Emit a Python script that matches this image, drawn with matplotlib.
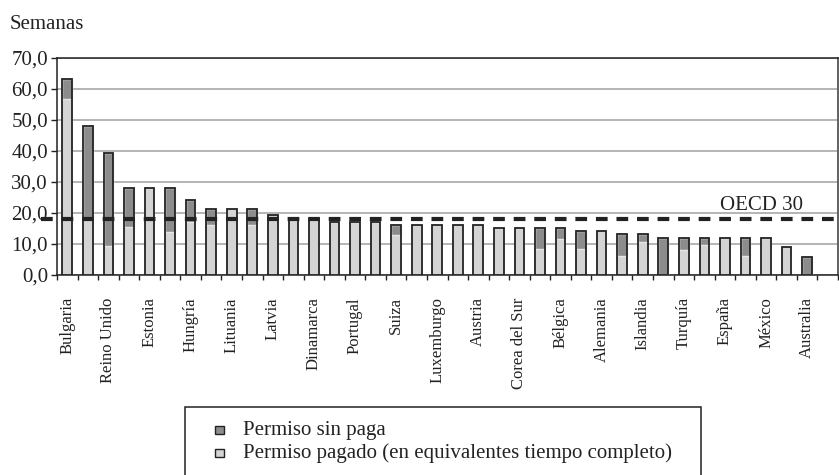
import matplotlib
matplotlib.use("Agg")
import matplotlib.pyplot as plt
from matplotlib.patches import Rectangle
import numpy as np

labels = ["Bulgaria", "", "Reino Unido", "", "Estonia", "", "Hungría", "", "Lituania", "",
          "Latvia", "", "Dinamarca", "", "Portugal", "", "Suiza", "", "Luxemburgo", "",
          "Austria", "", "Corea del Sur", "", "Bélgica", "", "Alemania", "", "Islandia", "",
          "Turquía", "", "España", "", "México", "", "Australia"]
paid = [56.6, 18.0, 9.4, 15.6, 28.1, 13.7, 17.0, 16.0, 21.2, 16.2,
        19.2, 18.2, 18.2, 17.2, 17.2, 17.2, 12.9, 16.2, 16.1, 16.1,
        16.1, 15.0, 15.0, 8.4, 11.6, 8.4, 14.1, 6.1, 10.5, 0.0,
        8.1, 9.7, 11.9, 6.1, 11.9, 9.1, 0.0]
unpaid = [6.4, 30.0, 29.8, 12.5, 0.0, 14.4, 7.1, 5.2, 0.0, 5.0,
          0.0, 0.0, 0.0, 0.0, 0.0, 0.0, 3.3, 0.0, 0.0, 0.0,
          0.0, 0.0, 0.0, 6.6, 3.4, 5.7, 0.0, 7.0, 2.6, 11.9,
          3.8, 2.2, 0.0, 5.8, 0.0, 0.0, 5.9]
oecd_value = 18.0
oecd_label = "OECD 30"
yticks = [0, 10, 20, 30, 40, 50, 60, 70]
legend_labels = ["Permiso sin paga", "Permiso pagado (en equivalentes tiempo completo)"]

DARK = "#8c8c8c"
LIGHT = "#d4d4d4"
EDGE = "#222222"
plt.rcParams['font.family'] = ['Liberation Serif', 'DejaVu Serif']
plt.rcParams['lines.scale_dashes'] = False

W, H = 839, 475
fig = plt.figure(figsize=(W / 100, H / 100), dpi=100)
ax_l, ax_r, ax_t, ax_b = 57, 838, 57.7, 275
ax = fig.add_axes([ax_l / W, 1 - ax_b / H, (ax_r - ax_l) / W, (ax_b - ax_t) / H])

n = len(labels)
x = np.arange(n)
paid_a = np.array(paid)
unpaid_a = np.array(unpaid)
total = paid_a + unpaid_a
bw = 0.47

ax.bar(x, paid_a, width=bw, color=LIGHT, edgecolor="none", zorder=3)
ax.bar(x, unpaid_a, width=bw, bottom=paid_a, color=DARK, edgecolor="#e6e6e6",
       linewidth=1.0, zorder=3)
ax.bar(x, total, width=bw, color="none", edgecolor=EDGE, linewidth=1.3, zorder=4)

ncat = n + 1
ax.set_xlim(-0.5, ncat - 0.5)
ax.set_ylim(0, 70)

# dashed OECD line, dashes centred on categories
period_pt = (ax_r - ax_l) / ncat * 0.72
dash = period_pt * 0.57
gap = period_pt - dash
ax.plot([-1 - 0.285, ncat - 0.5], [oecd_value, oecd_value], color=EDGE, linewidth=3.0,
        dashes=(dash, gap), solid_capstyle="butt", dash_capstyle="butt",
        clip_on=False, zorder=5)
ax.text(35.8, 20.9, oecd_label, ha="right", va="baseline", fontsize=15, color="#222222")

ax.set_yticks(yticks)
ax.set_yticklabels([f"{v:.1f}".replace(".", ",") for v in yticks], fontsize=15, color="#222222")
ax.tick_params(axis="y", length=4, width=1.0, pad=2.5, color=EDGE)
ax.set_xticks(x)
ax.set_xticklabels(labels, rotation=90, fontsize=12, va="top", ha="center", color="#222222")
ax.set_xticks(np.arange(-0.5, ncat, 1.0), minor=True)
ax.tick_params(axis="x", which="major", length=0, pad=16)
ax.tick_params(axis="x", which="minor", length=3.5, width=1.0, color=EDGE)

ax.grid(axis="y", color="#a0a0a0", linewidth=1.1, zorder=0)
ax.set_axisbelow(True)
for s in ["left", "bottom", "top"]:
    ax.spines[s].set_color(EDGE)
    ax.spines[s].set_linewidth(1.1)
ax.spines["right"].set_color("#555555")
ax.spines["right"].set_linewidth(1.3)

fig.text(10 / W, 1 - 29.3 / H, "Semanas", ha="left", va="baseline", fontsize=15, color="#222222")

# legend box (manual)
lx0, lx1, ly0, ly1 = 185, 701, 407, 478
fig.add_artist(Rectangle((lx0 / W, 1 - ly1 / H), (lx1 - lx0) / W, (ly1 - ly0) / H,
                         transform=fig.transFigure, facecolor="white", edgecolor=EDGE,
                         linewidth=1.1, clip_on=False))
rows_y = [430, 453]
for yy, lab, col in zip(rows_y, legend_labels, [DARK, LIGHT]):
    s = 8.5
    fig.add_artist(Rectangle((215 / W, 1 - (yy + s / 2) / H), s / W, s / H,
                             transform=fig.transFigure, facecolor=col, edgecolor=EDGE,
                             linewidth=1.0))
    fig.text(242.7 / W, 1 - yy / H, lab, ha="left", va="center", fontsize=15, color="#222222")

fig.savefig("out.png", dpi=100)
